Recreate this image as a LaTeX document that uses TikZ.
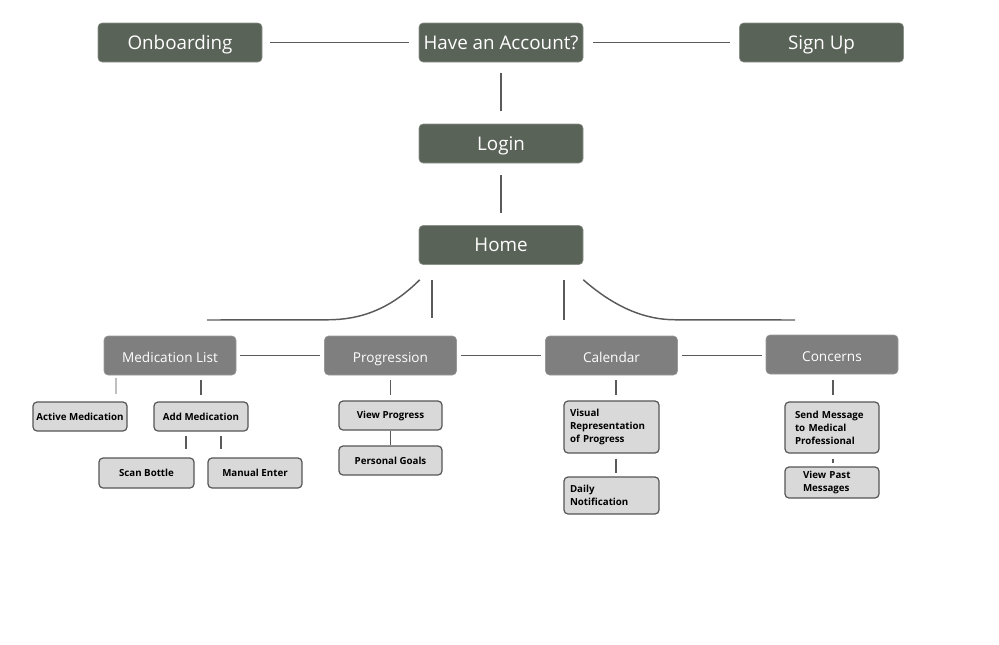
\documentclass[tikz,border=0pt]{standalone}
\usepackage{fontspec}
\setmainfont{Open Sans}
\usetikzlibrary{calc}
\definecolor{darkbox}{HTML}{5A6358}
\definecolor{midbox}{HTML}{7F7F7F}
\definecolor{lightbox}{HTML}{D9D9D9}
\definecolor{edgecol}{HTML}{555555}
\definecolor{linecol}{HTML}{5A5A5A}
\tikzset{
  topbox/.style={fill=darkbox, draw=darkbox!70!white, line width=0.4pt, rounded corners=3pt, text=white,
    minimum width=164*0.75pt, minimum height=39*0.75pt, inner sep=0pt, text height=10.2pt, text depth=0pt,
    font=\fontsize{14.1}{16}\selectfont},
  midbx/.style={fill=midbox, draw=midbox!80!white, line width=0.4pt, rounded corners=3pt, text=white,
    minimum width=132*0.75pt, minimum height=39*0.75pt, inner sep=0pt, text height=10.4pt, text depth=0pt,
    font=\fontsize{10.2}{12}\selectfont},
  leaf/.style={fill=lightbox, draw=edgecol, line width=0.9pt, rounded corners=3pt, text=black,
    minimum width=94*0.75pt, inner sep=0pt, font=\bfseries\fontsize{7.3}{9.7}\selectfont},
  conn/.style={draw=linecol, line width=1.1pt},
  lightconn/.style={draw=black!25, line width=1.1pt},
}
\begin{document}
\begin{tikzpicture}[x=0.75pt, y=-0.75pt]
\useasboundingbox (0,0) rectangle (999,644);
% top row
\node[topbox] (onb) at (180,42.5) {Onboarding};
\node[topbox] (have) at (501,42.5) {Have an Account?};
\node[topbox] (signup) at (821.5,42.5) {Sign Up};
\node[topbox] (login) at (501,143.5) {Login};
\node[topbox] (home) at (501,245) {Home};
% second row
\node[midbx] (med) at (170,355.5) {Medication List};
\node[midbx] (prog) at (390.5,355.5) {Progression};
\node[midbx] (cal) at (611.5,355.5) {Calendar};
\node[midbx] (conc) at (832,354.5) {Concerns};
% leaves
\node[leaf, minimum height=29*0.75pt] (active) at (80,416.5) {Active Medication};
\node[leaf, minimum height=29*0.75pt] (add) at (201,416.5) {Add Medication};
\node[leaf, minimum width=95*0.75pt, minimum height=30*0.75pt] (scan) at (146.5,473) {Scan Bottle};
\node[leaf, minimum height=30*0.75pt] (manual) at (255,473) {Manual Enter};
\node[leaf, minimum width=103*0.75pt, minimum height=29*0.75pt] (viewprog) at (390.5,415.5) {View Progress};
\node[leaf, minimum width=103*0.75pt, minimum height=29*0.75pt] (goals) at (390.5,460.5) {Personal Goals};
\node[leaf, minimum width=95*0.75pt, minimum height=52*0.75pt, align=left, text width=83*0.75pt] (visual) at (611.5,427) {Visual\\Representation\\of Progress};
\node[leaf, minimum width=95*0.75pt, minimum height=37*0.75pt, align=left, text width=83*0.75pt] (daily) at (611.5,495.5) {Daily\\Notification};
\node[leaf, minimum height=51*0.75pt, align=left, text width=74*0.75pt] (send) at (832,427.5) {Send Message\\to Medical\\Professional};
\node[leaf, minimum height=31*0.75pt, align=left, text width=58*0.75pt] (past) at (832,482.5) {View Past\\Messages};
% top connectors
\draw[conn, shorten <=8*0.75pt, shorten >=10*0.75pt] (onb) -- (have);
\draw[conn, shorten <=10*0.75pt, shorten >=9*0.75pt] (have) -- (signup);
\draw[conn, shorten <=11*0.75pt, shorten >=13*0.75pt] (have) -- (login);
\draw[conn, shorten <=12*0.75pt, shorten >=12*0.75pt] (login) -- (home);
% home branches
\coordinate (hl) at ($(home.south west)+(1,15)$);
\coordinate (hr) at ($(home.south east)+(0,15)$);
\coordinate (lend) at (207,320);
\coordinate (rend) at (795,320);
\draw[conn] (hl) .. controls ($(hl)+(-30,30)$) and ($(hl)+(-60,40)$) .. ($(hl)+(-92,40)$) -- (lend);
\draw[conn] (hr) .. controls ($(hr)+(32,28)$) and ($(hr)+(62,40)$) .. ($(hr)+(92,40)$) -- (rend);
\coordinate (vl) at (432,318);
\coordinate (vr) at (564,320);
\draw[conn] (432,0 |- hl) -- (vl);
\draw[conn] (564,0 |- hr) -- (vr);
% second row connectors
\draw[conn, shorten <=4*0.75pt, shorten >=4*0.75pt] (med) -- (prog);
\draw[conn, shorten <=4*0.75pt, shorten >=4*0.75pt] (prog) -- (cal);
\draw[conn, shorten <=4*0.75pt, shorten >=4*0.75pt] (cal.east) -- (conc.west |- cal.east);
% leaf connectors
\draw[lightconn, shorten <=3*0.75pt, shorten >=7*0.75pt] (116,0 |- med.south) -- (116,0 |- active.north);
\draw[conn, shorten <=5*0.75pt, shorten >=6*0.75pt] (med.south -| add.north) -- (add.north);
\draw[conn, shorten <=4*0.75pt, shorten >=8*0.75pt] (186,0 |- add.south) -- (186,0 |- scan.north);
\draw[conn, shorten <=4*0.75pt, shorten >=8*0.75pt] (221,0 |- add.south) -- (221,0 |- manual.north);
\draw[conn, shorten <=5*0.75pt, shorten >=5*0.75pt] (prog.south) -- (viewprog.north);
\draw[conn] (viewprog.south) -- (goals.north);
\draw[conn, shorten <=5*0.75pt, shorten >=5*0.75pt] (616,0 |- cal.south) -- (616,0 |- visual.north);
\draw[conn, shorten <=5*0.75pt, shorten >=3*0.75pt] (616,0 |- visual.south) -- (616,0 |- daily.north);
\draw[conn, shorten <=6*0.75pt, shorten >=6*0.75pt] (833,0 |- conc.south) -- (833,0 |- send.north);
\draw[conn, shorten <=5*0.75pt, shorten >=3*0.75pt] (833,0 |- send.south) -- (833,0 |- past.north);
\end{tikzpicture}
\end{document}
